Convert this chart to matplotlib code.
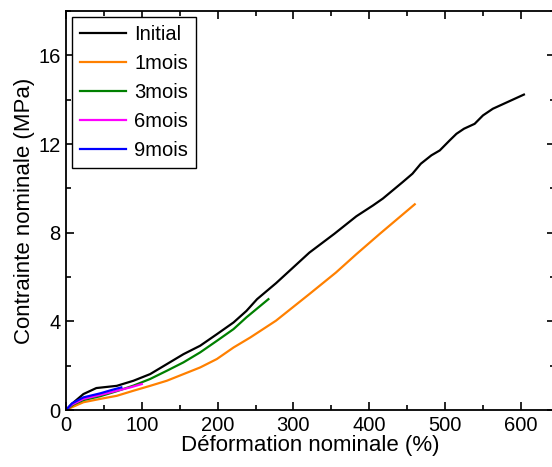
import numpy as np
import matplotlib.pyplot as plt
from matplotlib.ticker import MultipleLocator

plt.rcParams['font.family'] = ['Liberation Sans', 'DejaVu Sans']

# valeurs
x_init = [0, 7.5, 23, 40, 67, 89, 111, 133, 155, 177, 199, 221, 238, 252, 277, 321, 354,
          383, 405, 418, 431, 444, 457, 468, 482, 493, 506, 515, 525, 539, 550, 563, 604]
y_init = [0, 0.27, 0.72, 0.99, 1.09, 1.32, 1.62, 2.07, 2.52, 2.9, 3.42, 3.95, 4.47, 5.0, 5.72, 7.1, 7.95,
          8.74, 9.23, 9.54, 9.91, 10.28, 10.66, 11.11, 11.49, 11.71, 12.16, 12.46, 12.69, 12.91, 13.29, 13.59, 14.23]

x_1m = [0, 7.5, 23, 45, 67, 89, 111, 133, 155, 177, 199, 221, 243, 277, 321, 356, 383, 414, 460]
y_1m = [0, 0.12, 0.35, 0.5, 0.64, 0.87, 1.09, 1.32, 1.62, 1.92, 2.3, 2.82, 3.27, 4.03, 5.23, 6.2, 7.03, 7.95, 9.28]

x_3m = [0, 10, 23, 45, 67, 89, 111, 133, 155, 177, 199, 221, 238, 267]
y_3m = [0, 0.25, 0.45, 0.62, 0.85, 1.1, 1.4, 1.77, 2.15, 2.6, 3.12, 3.65, 4.18, 5.0]

x_6m = [0, 8, 23, 45, 67, 85, 100]
y_6m = [0, 0.25, 0.5, 0.68, 0.87, 1.02, 1.17]

x_9m = [0, 8, 23, 45, 60, 73]
y_9m = [0, 0.3, 0.57, 0.75, 0.9, 1.02]

series = [('Initial', x_init, y_init, 'black'),
          ('1mois', x_1m, y_1m, '#FF8000'),
          ('3mois', x_3m, y_3m, '#008000'),
          ('6mois', x_6m, y_6m, '#FF00FF'),
          ('9mois', x_9m, y_9m, '#0000FF')]

fig = plt.figure(figsize=(5.52, 4.67), dpi=100)
ax = fig.add_axes([66/552, 1-410/467, 489/552, 399/467])

for lab, xs, ys, c in series:
    ax.plot(xs, ys, color=c, lw=1.6, label=lab)

ax.set_xlim(0, 645)
ax.set_ylim(0, 18)
ax.xaxis.set_major_locator(MultipleLocator(100))
ax.xaxis.set_minor_locator(MultipleLocator(50))
ax.yaxis.set_major_locator(MultipleLocator(4))
ax.yaxis.set_minor_locator(MultipleLocator(2))
ax.tick_params(which='both', direction='in', top=True, right=True, width=1.2)
ax.tick_params(which='major', length=6, labelsize=14.5, pad=4)
ax.tick_params(which='minor', length=3.5)
for s in ax.spines.values():
    s.set_linewidth(1.3)

ax.set_xlabel('Déformation nominale (%)', fontsize=16, labelpad=0)
ax.set_ylabel('Contrainte nominale (MPa)', fontsize=16, labelpad=2)

leg = ax.legend(loc='upper left', fontsize=14.5, fancybox=False, edgecolor='black',
                borderaxespad=0.3, handlelength=2.3, handletextpad=0.4,
                labelspacing=0.5, borderpad=0.4, framealpha=1)
leg.get_frame().set_linewidth(1.0)

fig.savefig('out.png', dpi=100)
